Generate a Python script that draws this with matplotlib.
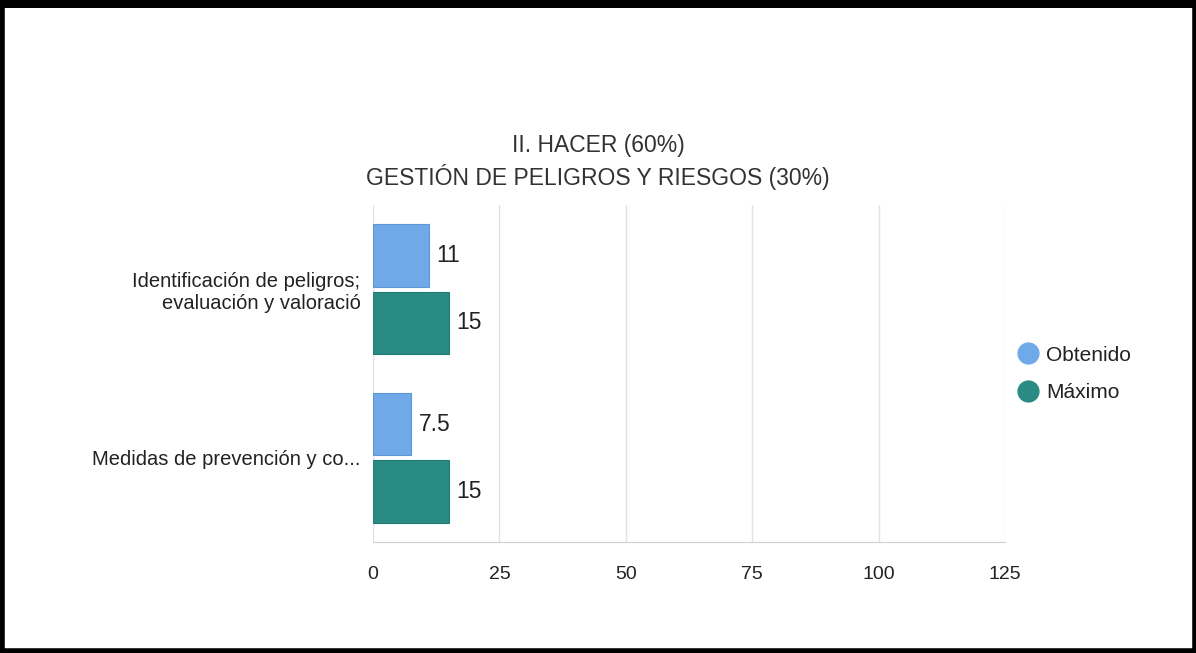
import matplotlib.pyplot as plt
import matplotlib.patches as patches
from matplotlib.lines import Line2D
import numpy as np

plt.rcParams['font.family'] = ['Liberation Sans', 'DejaVu Sans']

# data
categories = ['Identificación de peligros;\nevaluación y valoració',
              'Medidas de prevención y co...']
obtenido = [11, 7.5]
maximo = [15, 15]
value_labels_obt = ['11', '7.5']
value_labels_max = ['15', '15']
x_ticks = [0, 25, 50, 75, 100, 125]
title = 'II. HACER (60%)\nGESTIÓN DE PELIGROS Y RIESGOS (30%)'

c_obt = '#70a9e8'
c_max = '#2a8b85'
text_c = '#222222'

fig = plt.figure(figsize=(11.96, 6.53), dpi=100)
fig.patch.set_facecolor('white')

# axes placed to match the screenshot plot area
W, H = 1196, 653
left, right, top, bottom = 373, 1005, 205, 542
ax = fig.add_axes([left / W, 1 - bottom / H, (right - left) / W, (bottom - top) / H])

y = np.arange(len(categories))
h = 0.37
ax.barh(y - 0.2, obtenido, height=h, color=c_obt, edgecolor='#5f97d6', linewidth=0.8, zorder=3)
ax.barh(y + 0.2, maximo, height=h, color=c_max, edgecolor='#247a74', linewidth=0.8, zorder=3)

for i in range(len(categories)):
    ax.text(obtenido[i] + 1.5, y[i] - 0.2, value_labels_obt[i], va='center', ha='left',
            fontsize=16.5, color=text_c)
    ax.text(maximo[i] + 1.5, y[i] + 0.2, value_labels_max[i], va='center', ha='left',
            fontsize=16.5, color=text_c)

ax.set_xlim(0, 125)
ax.set_ylim(1.5, -0.5)
ax.set_xticks(x_ticks)
ax.set_xticklabels([str(t) for t in x_ticks], fontsize=14, color=text_c)
ax.set_yticks(y)
ax.set_yticklabels(categories, fontsize=14.5, color=text_c, ha='right', linespacing=1.2)
ax.tick_params(axis='both', length=0)
ax.tick_params(axis='x', pad=17)
ax.tick_params(axis='y', pad=9)

ax.grid(axis='x', color='#e2e2e2', linewidth=1, zorder=0)
for s in ['top', 'right', 'left']:
    ax.spines[s].set_visible(False)
ax.spines['bottom'].set_color('#cfcfcf')
ax.set_facecolor('white')

fig.text(0.5, 1 - 162 / H, title, ha='center', va='center', fontsize=16.5,
         color='#333333', linespacing=1.3)

# legend
handles = [Line2D([0], [0], marker='o', color='w', markerfacecolor=c_obt, markersize=17),
           Line2D([0], [0], marker='o', color='w', markerfacecolor=c_max, markersize=17)]
fig.legend(handles, ['Obtenido', 'Máximo'], loc='center left',
           bbox_to_anchor=(995 / W, 1 - 374 / H), frameon=False, fontsize=15,
           handletextpad=0.15, labelspacing=0.9, handlelength=1.4,
           labelcolor=text_c)

# black screenshot border
fig.patches.append(patches.Rectangle((0.002, 0.003), 0.997, 0.99, transform=fig.transFigure,
                                     fill=False, edgecolor='black', linewidth=4))
fig.patches.append(patches.Rectangle((0, 0.988), 1, 0.012, transform=fig.transFigure,
                                     facecolor='black', edgecolor='none'))

plt.savefig('out.png', dpi=100)
